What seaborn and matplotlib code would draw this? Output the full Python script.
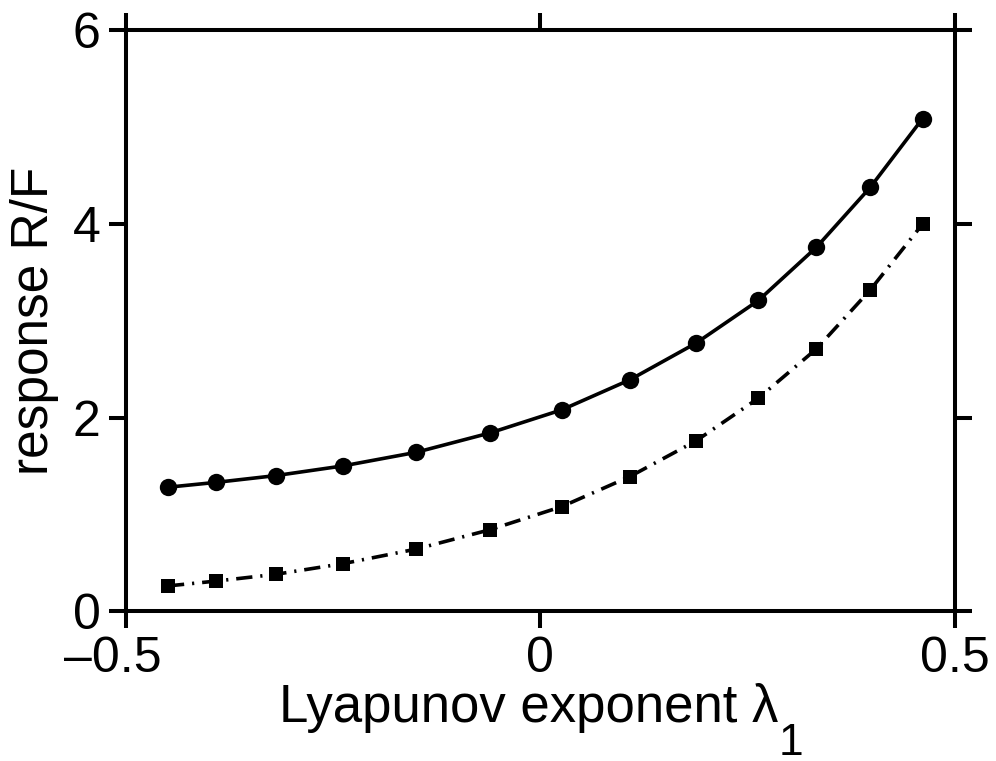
import matplotlib
matplotlib.use("Agg")
import pandas as pd
import matplotlib.pyplot as plt
import matplotlib.transforms as mtransforms
import seaborn as sns

# -----------------------------
# Data
# -----------------------------
lyapunov = [-0.449, -0.391, -0.319, -0.238, -0.150, -0.061, 0.026,
            0.108, 0.188, 0.263, 0.333, 0.398, 0.461]
response_circles = [1.28, 1.33, 1.40, 1.50, 1.64, 1.84, 2.08,
                    2.39, 2.77, 3.21, 3.76, 4.38, 5.09]
response_squares = [0.26, 0.31, 0.38, 0.49, 0.64, 0.84, 1.08,
                    1.39, 1.76, 2.20, 2.71, 3.32, 4.00]
x_ticks = [-0.5, 0, 0.5]
x_tick_labels = ["\u20130.5", "0", "0.5"]
y_ticks = [0, 2, 4, 6]

# -----------------------------
# Style
# -----------------------------
sns.set_theme(style="white")
plt.rcParams["font.family"] = ["Liberation Sans", "DejaVu Sans"]
plt.rcParams["axes.linewidth"] = 2.9

df = pd.DataFrame({
    "lyapunov": lyapunov,
    "circles": response_circles,
    "squares": response_squares,
})

fig = plt.figure(figsize=(9.96, 7.61), dpi=100)
ax = fig.add_axes([0.1262, 0.197, 0.8326, 0.763])

sns.lineplot(data=df, x="lyapunov", y="circles", ax=ax, color="black",
             linewidth=2.6, marker="o", markersize=12.5,
             markeredgecolor="black", markeredgewidth=0)
sns.lineplot(data=df, x="lyapunov", y="squares", ax=ax, color="black",
             linewidth=2.6, marker="s", markersize=10.5,
             markeredgecolor="black", markeredgewidth=0,
             dashes=False)
# dash-dot for the square series
ax.lines[-1].set_dashes((4.5, 2.2, 0.6, 2.2))

ax.set_xlim(-0.5, 0.5)
ax.set_ylim(0, 6)
ax.set_xticks(x_ticks)
ax.set_xticklabels(x_tick_labels)
ax.set_yticks(y_ticks)

for spine in ax.spines.values():
    spine.set_color("black")
    spine.set_linewidth(2.9)

ax.tick_params(axis="both", which="major", direction="out", length=12,
               width=2.9, color="black", labelsize=36, labelcolor="black",
               top=True, right=True, bottom=True, left=True,
               labeltop=False, labelright=False)
ax.tick_params(axis="x", pad=6)
ax.tick_params(axis="y", pad=6)

# centre "0.5" of the negative label under its tick, dash hangs left
first = ax.get_xticklabels()[0]
first.set_transform(first.get_transform() +
                    mtransforms.ScaledTranslation(-0.13, 0, fig.dpi_scale_trans))

ax.set_xlabel("Lyapunov exponent \u03bb", fontsize=38, color="black", labelpad=1)
ax.xaxis.label.set_x(0.4855)
ax.set_ylabel("response R/F", fontsize=37, color="black", labelpad=10)
ax.annotate("1", xy=(1, 0), xycoords=ax.xaxis.label, xytext=(0.5, 7.5),
            textcoords="offset points", ha="left", va="top",
            fontsize=32, color="black")

ax.grid(False)
fig.savefig("out.png", dpi=100)
